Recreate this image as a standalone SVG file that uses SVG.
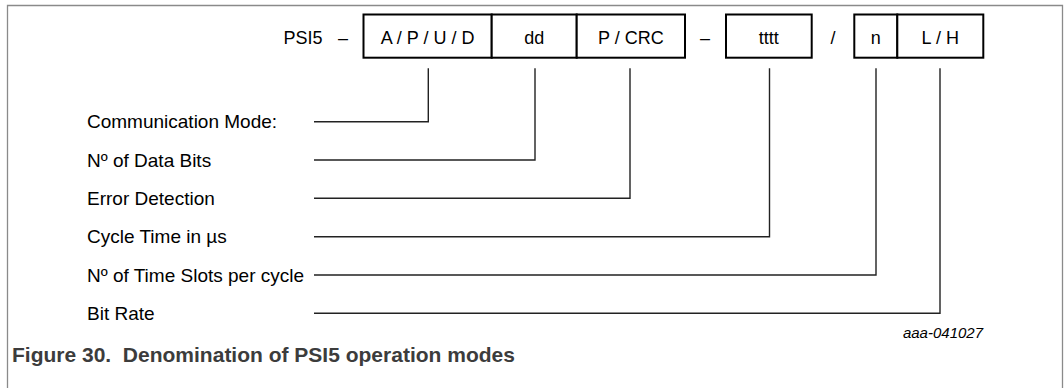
<svg xmlns="http://www.w3.org/2000/svg" width="1064" height="388" viewBox="0 0 1064 388">
  <style>
    .frame { fill: none; stroke: #8a8a8a; stroke-width: 1.3; }
    .box { fill: #ffffff; stroke: #000000; stroke-width: 2; }
    .conn { fill: none; stroke: #222222; stroke-width: 1.4; }
    .t { font-family: "Liberation Sans", Arial, sans-serif; fill: #000000; }
    .top { font-size: 18px; text-anchor: middle; }
    .lbl { font-size: 19px; }
    .code { font-size: 15px; font-style: italic; text-anchor: end; }
    .cap { font-size: 21px; font-weight: bold; fill: #3c3c3c; white-space: pre; }
  </style>
  <rect width="1064" height="388" fill="#ffffff"/>
  <path class="frame" d="M7.5,388 V5.5 H1062.5 V388"/>

  <g id="prefix">
    <text class="t top" x="303" y="44">PSI5</text>
    <text class="t top" x="343" y="44">–</text>
  </g>
  <g id="box-mode">
    <rect class="box" x="363.5" y="14.5" width="128.2" height="43.2"/>
    <text class="t top" x="427.6" y="44">A / P / U / D</text>
  </g>
  <g id="box-dd">
    <rect class="box" x="491.7" y="14.5" width="85" height="43.2"/>
    <text class="t top" x="534.2" y="44">dd</text>
  </g>
  <g id="box-crc">
    <rect class="box" x="576.7" y="14.5" width="108.3" height="43.2"/>
    <text class="t top" x="630.8" y="44">P / CRC</text>
  </g>
  <g id="sep-dash">
    <text class="t top" x="705" y="44">–</text>
  </g>
  <g id="box-tttt">
    <rect class="box" x="726" y="14.5" width="85.7" height="43.2"/>
    <text class="t top" x="768.8" y="44">tttt</text>
  </g>
  <g id="sep-slash">
    <text class="t top" x="833" y="44">/</text>
  </g>
  <g id="box-n">
    <rect class="box" x="854.3" y="14.5" width="43" height="43.2"/>
    <text class="t top" x="875.8" y="44">n</text>
  </g>
  <g id="box-lh">
    <rect class="box" x="897.3" y="14.5" width="86" height="43.2"/>
    <text class="t top" x="940.3" y="44">L / H</text>
  </g>

  <g id="labels">
    <text class="t lbl" x="87" y="128.4">Communication Mode:</text>
    <text class="t lbl" x="87" y="166.7">Nº of Data Bits</text>
    <text class="t lbl" x="87" y="205">Error Detection</text>
    <text class="t lbl" x="87" y="243.4">Cycle Time in µs</text>
    <text class="t lbl" x="87" y="281.7">Nº of Time Slots per cycle</text>
    <text class="t lbl" x="87" y="320">Bit Rate</text>
  </g>

  <g id="connectors">
    <path class="conn" d="M314,121.7 H428.3 V68.3"/>
    <path class="conn" d="M314,160 H535 V68.3"/>
    <path class="conn" d="M314,198.3 H630 V68.3"/>
    <path class="conn" d="M314,236.7 H769.5 V68.3"/>
    <path class="conn" d="M314,275 H876 V68.3"/>
    <path class="conn" d="M314,313.3 H940 V68.3"/>
  </g>

  <text class="t code" x="983" y="338">aaa-041027</text>
  <text class="t cap" x="12" y="362" xml:space="preserve">Figure 30.  Denomination of PSI5 operation modes</text>
</svg>
